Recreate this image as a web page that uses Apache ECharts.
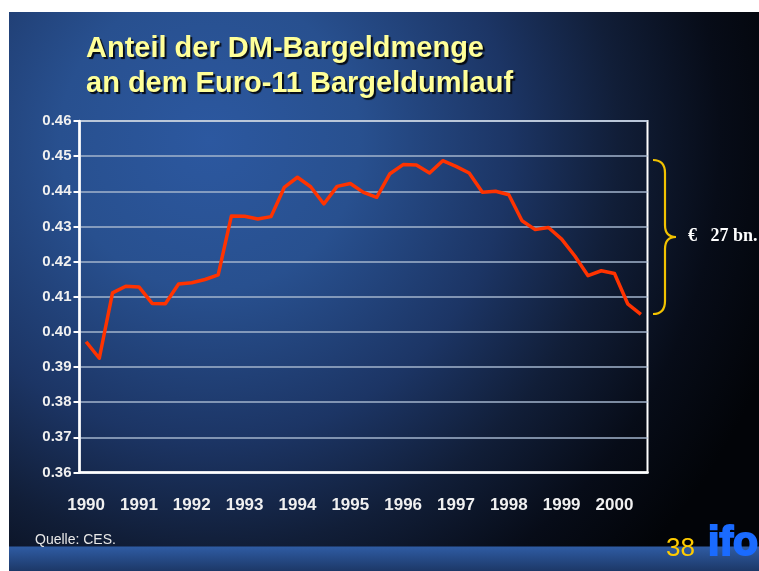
<!DOCTYPE html>
<html>
<head>
<meta charset="utf-8">
<script src="https://cdn.jsdelivr.net/npm/echarts@6/dist/echarts.min.js"></script>
<style>
  html, body { margin: 0; padding: 0; background: #fff; }
  #chart { width: 759px; height: 571px; }
</style>
</head>
<body>
<div id="chart"></div>
<script>
// Jahre (je 4 Quartale), 1990 Q1 bis 2000 Q3
const years = ['1990', '1991', '1992', '1993', '1994', '1995', '1996', '1997', '1998', '1999', '2000']
const quarterNames = ['Q1', 'Q2', 'Q3', 'Q4']

// Anteil der DM-Bargeldmenge (Quartalswerte)
const shareValues = [
  0.3972, 0.3925, 0.4111, 0.4130,
  0.4128, 0.4081, 0.4080, 0.4136,
  0.4140, 0.4149, 0.4162, 0.4330,
  0.4329, 0.4321, 0.4328, 0.4411,
  0.4440, 0.4413, 0.4364, 0.4414,
  0.4422, 0.4397, 0.4383, 0.4450,
  0.4476, 0.4475, 0.4452, 0.4487,
  0.4471, 0.4452, 0.4397, 0.4400,
  0.4390, 0.4316, 0.4291, 0.4297,
  0.4264, 0.4216, 0.4160, 0.4174,
  0.4166, 0.4080, 0.4050
]

// y-Achse
const yMin = 0.36
const yMax = 0.46
const yStep = 0.01

// Kategorien: ein Eintrag pro Quartal
const categories = []
years.forEach(y => quarterNames.forEach(q => categories.push(y + ' ' + q)))
categories.length = shareValues.length

const chart = echarts.init(document.getElementById('chart'))

const braceStyle = { stroke: '#f2c200', lineWidth: 2.2, fill: null }

const option = {
  backgroundColor: '#ffffff',
  animation: false,
  title: {
    text: 'Anteil der DM-Bargeldmenge\nan dem Euro-11 Bargeldumlauf',
    left: 86,
    top: 31,
    padding: 0,
    textStyle: {
      color: '#ffff99',
      fontSize: 29,
      fontWeight: 'bold',
      fontFamily: 'Liberation Sans, Arial, sans-serif',
      lineHeight: 35,
      textShadowColor: 'rgba(0,0,0,0.85)',
      textShadowOffsetX: 2,
      textShadowOffsetY: 2,
      textShadowBlur: 1
    }
  },
  grid: {
    left: 79.5,
    right: 111.5,
    top: 121,
    bottom: 98.5,
    show: true,
    borderColor: '#ffffff',
    borderWidth: 2,
    backgroundColor: 'transparent'
  },
  xAxis: {
    type: 'category',
    data: categories,
    boundaryGap: true,
    axisLine: { lineStyle: { color: '#ffffff', width: 2.5 } },
    axisTick: { interval: 3, length: 6, lineStyle: { color: '#ffffff', width: 2 } },
    axisLabel: {
      interval: 3,
      margin: 24,
      color: '#f0f0f0',
      fontSize: 17,
      fontWeight: 'bold',
      fontFamily: 'Liberation Sans, Arial, sans-serif',
      formatter: v => v.slice(0, 4)
    },
    splitLine: { show: false }
  },
  yAxis: {
    type: 'value',
    min: yMin,
    max: yMax,
    interval: yStep,
    axisLine: { show: true, lineStyle: { color: '#ffffff', width: 2.5 } },
    axisTick: { show: true, length: 6, lineStyle: { color: '#ffffff', width: 2 } },
    axisLabel: {
      margin: 8,
      color: '#f0f0f0',
      fontSize: 15,
      fontWeight: 'bold',
      fontFamily: 'Liberation Sans, Arial, sans-serif',
      formatter: v => v.toFixed(2)
    },
    splitLine: { lineStyle: { color: '#a3b5cd', width: 1.5 } }
  },
  series: [{
    name: 'Anteil',
    type: 'line',
    data: shareValues,
    symbol: 'none',
    smooth: false,
    lineStyle: { color: '#ff3300', width: 3.5, join: 'round' },
    z: 5
  }],
  graphic: [
    {
      // Hintergrund der Folie
      type: 'rect',
      z: -10,
      silent: true,
      shape: { x: 9, y: 12, width: 750, height: 559 },
      style: {
        fill: {
          type: 'radial', x: 210, y: 140, r: 600, global: true,
          colorStops: [
            { offset: 0, color: '#2c58a0' },
            { offset: 0.25, color: '#28508f' },
            { offset: 0.5, color: '#1c3565' },
            { offset: 0.68, color: '#111e38' },
            { offset: 0.85, color: '#070c18' },
            { offset: 1, color: '#020408' }
          ]
        }
      }
    },
    {
      // blauer Streifen unten
      type: 'rect',
      z: -9,
      silent: true,
      shape: { x: 9, y: 546.5, width: 750, height: 25 },
      style: {
        fill: {
          type: 'linear', x: 0, y: 0, x2: 0, y2: 1,
          colorStops: [
            { offset: 0, color: '#2f5ca4' },
            { offset: 1, color: '#1c3766' }
          ]
        }
      }
    },
    // geschweifte Klammer
    { type: 'bezierCurve', z: 10, silent: true, shape: { x1: 653, y1: 160, cpx1: 665, cpy1: 160, x2: 665, y2: 173 }, style: braceStyle },
    { type: 'line', z: 10, silent: true, shape: { x1: 665, y1: 173, x2: 665, y2: 225 }, style: braceStyle },
    { type: 'bezierCurve', z: 10, silent: true, shape: { x1: 665, y1: 225, cpx1: 665, cpy1: 237, x2: 676, y2: 237 }, style: braceStyle },
    { type: 'bezierCurve', z: 10, silent: true, shape: { x1: 676, y1: 237, cpx1: 665, cpy1: 237, x2: 665, y2: 249 }, style: braceStyle },
    { type: 'line', z: 10, silent: true, shape: { x1: 665, y1: 249, x2: 665, y2: 301 }, style: braceStyle },
    { type: 'bezierCurve', z: 10, silent: true, shape: { x1: 665, y1: 301, cpx1: 665, cpy1: 314, x2: 653, y2: 314 }, style: braceStyle },
    {
      type: 'text',
      z: 10,
      left: 688,
      top: 227,
      style: {
        text: '€   27 bn.',
        fill: '#ffffff',
        font: 'bold 18px "Liberation Serif", "Times New Roman", serif'
      }
    },
    {
      type: 'text',
      z: 10,
      left: 35,
      top: 533,
      style: {
        text: 'Quelle: CES.',
        fill: '#e8e8e8',
        font: '14px "Liberation Sans", Arial, sans-serif'
      }
    },
    {
      type: 'text',
      z: 10,
      left: 666,
      top: 536,
      style: {
        text: '38',
        fill: '#ffcc00',
        font: '26px "Liberation Sans", Arial, sans-serif'
      }
    },
    {
      type: 'text',
      z: 10,
      left: 707,
      top: 522,
      style: {
        text: 'ifo',
        fill: '#1a6bff',
        stroke: '#1a6bff',
        lineWidth: 2,
        font: 'bold 41px "Liberation Sans", Arial, sans-serif'
      }
    }
  ]
}

chart.setOption(option)
</script>
</body>
</html>
